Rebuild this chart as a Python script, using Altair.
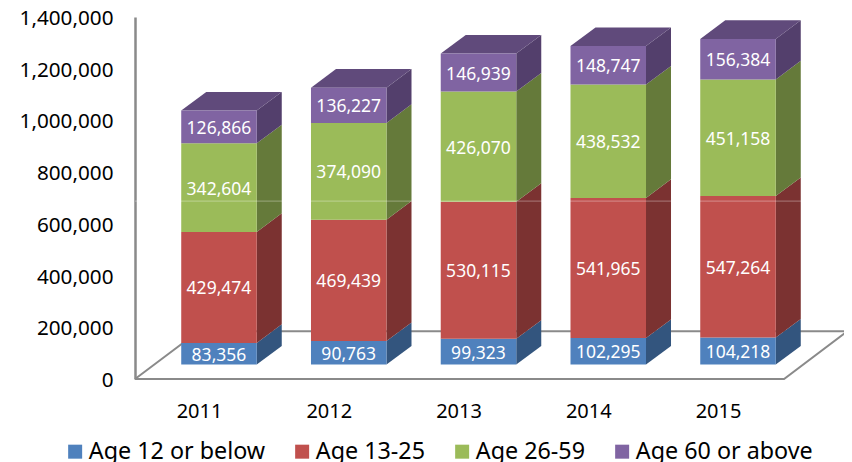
import altair as alt
import pandas as pd

YEARS = [2011, 2012, 2013, 2014, 2015]
SERIES = ["Age 12 or below", "Age 13-25", "Age 26-59", "Age 60 or above"]
AGE_12 = [83356, 90763, 99323, 102295, 104218]
AGE_13 = [429474, 469439, 530115, 541965, 547264]
AGE_26 = [342604, 374090, 426070, 438532, 451158]
AGE_60 = [126866, 136227, 146939, 148747, 156384]
FRONT_COLORS = ["#4f81bd", "#c0504d", "#9bbb59", "#8064a2"]
SIDE_COLORS = ["#33557e", "#7b3231", "#657a3a", "#533f6c"]
TOP_COLOR = "#604a7b"
TICKS = [0, 200000, 400000, 600000, 800000, 1000000, 1200000, 1400000]

# 3-D projection, in data units
BASE = 56000        # bars stand inset on the floor
SHIFT = 0.154       # front face offset from category centre, in years
HALF = 0.291        # half bar width, in years
DEPTH_X = 0.1927    # receding offset, in years
DEPTH_Y = 72000     # receding offset, in value units
FLOOR_X = [2010.507, 2015.509, 2015.998, 2010.997, 2010.507]
FLOOR_Y = [0, 0, 185000, 185000, 0]
GLINT = 688000

XDOM = [2010.5067, 2015.9709]
xs = alt.Scale(domain=XDOM, nice=False, zero=False)
ys = alt.Scale(domain=[0, 1400000], nice=False, zero=False)
FONT = "Noto Sans"

XAX = alt.Axis(values=YEARS, format="d", title=None, domain=False, ticks=False, grid=False,
               labelFont=FONT, labelFontSize=20, labelColor="#000000", labelPadding=22,
               labelOverlap=False, labelFlush=False)
YAX = alt.Axis(values=TICKS, format=",d", title=None, domainColor="#8a8a8a", domainWidth=2.5,
               ticks=False, grid=False, labelFont=FONT, labelFontSize=20.7, labelColor="#000000",
               labelPadding=22, labelOffset=1.5, labelOverlap=False, labelFlush=False)

front, side, top, labels = [], [], [], []
for i, yr in enumerate(YEARS):
    l = yr + SHIFT - HALF
    r = yr + SHIFT + HALF
    y0 = BASE
    for s, vals, fc, sc in zip(SERIES, [AGE_12, AGE_13, AGE_26, AGE_60], FRONT_COLORS, SIDE_COLORS):
        y1 = y0 + vals[i]
        front.append(dict(s=s, l=l, r=r, y0=y0, y1=y1))
        labels.append(dict(x=yr + SHIFT, y=(y0 + y1) / 2, v=vals[i]))
        key = f"{yr}-{s}"
        side.append(dict(k=key, c=sc, x=r, a=y0, b=y1))
        side.append(dict(k=key, c=sc, x=r + DEPTH_X, a=y0 + DEPTH_Y, b=y1 + DEPTH_Y))
        y0 = y1
    k = f"top-{yr}"
    top += [
        dict(k=k, c=TOP_COLOR, x=l, a=y0, b=y0),
        dict(k=k, c=TOP_COLOR, x=l + DEPTH_X, a=y0, b=y0 + DEPTH_Y),
        dict(k=k, c=TOP_COLOR, x=r, a=y0, b=y0 + DEPTH_Y),
        dict(k=k, c=TOP_COLOR, x=r + DEPTH_X, a=y0 + DEPTH_Y, b=y0 + DEPTH_Y),
    ]

floor_df = pd.DataFrame({"x": FLOOR_X, "y": FLOOR_Y, "o": range(len(FLOOR_X))})

floor = alt.Chart(floor_df).mark_line(color="#8a8a8a", strokeWidth=2).encode(
    x=alt.X("x:Q", scale=xs, axis=XAX),
    y=alt.Y("y:Q", scale=ys, axis=YAX),
    order="o:O",
)

faces = alt.Chart(pd.DataFrame(side + top)).mark_area(opacity=1).encode(
    x=alt.X("x:Q", scale=xs, axis=XAX),
    y=alt.Y("a:Q", scale=ys, axis=YAX),
    y2="b:Q",
    fill=alt.Fill("c:N", scale=None),
    detail="k:N",
)

bars = alt.Chart(pd.DataFrame(front)).mark_bar(opacity=1).encode(
    x=alt.X("l:Q", scale=xs, axis=XAX),
    x2="r:Q",
    y=alt.Y("y0:Q", scale=ys, axis=YAX),
    y2="y1:Q",
    color=alt.Color(
        "s:N",
        scale=alt.Scale(domain=SERIES, range=FRONT_COLORS),
        legend=alt.Legend(orient="none", legendX=-71.5, legendY=423, direction="horizontal", columns=4,
                          title=None, symbolType="square", symbolSize=196, symbolStrokeWidth=0,
                          labelFont=FONT, labelFontSize=23.3, labelColor="#000000", labelLimit=400,
                          columnPadding=25, symbolOffset=0, labelOffset=2, padding=0),
    ),
)

glint = alt.Chart(pd.DataFrame({"y": [GLINT], "a": [XDOM[0]], "b": [2015.92]})).mark_rule(
    color="#ffffff", opacity=0.35, strokeWidth=1
).encode(
    x=alt.X("a:Q", scale=xs, axis=XAX),
    x2="b:Q",
    y=alt.Y("y:Q", scale=ys, axis=YAX),
)

text = alt.Chart(pd.DataFrame(labels)).mark_text(
    color="#ffffff", font=FONT, fontSize=17.5, align="center", baseline="middle", dy=2
).encode(
    x=alt.X("x:Q", scale=xs, axis=XAX),
    y=alt.Y("y:Q", scale=ys, axis=YAX),
    text=alt.Text("v:Q", format=",d"),
)

chart = alt.layer(floor, faces, bars, glint, text).properties(
    width=709,
    height=362,
    padding={"left": 127, "top": 9, "right": 0, "bottom": 83},
    autosize=alt.AutoSizeParams(type="none"),
    background="#ffffff",
).configure_view(stroke=None)

chart.save("out.html", embed_options={"renderer": "svg", "actions": False})
